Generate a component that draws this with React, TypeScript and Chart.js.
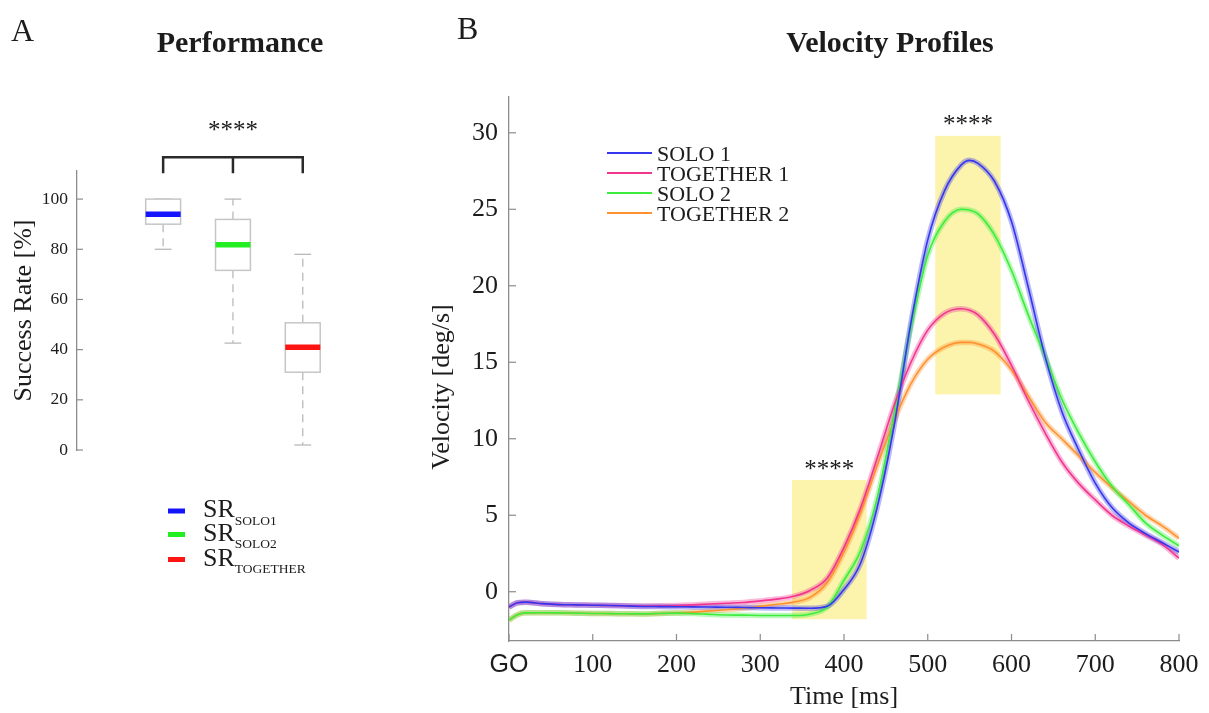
import React, { useEffect, useRef } from 'react';
import { Chart, registerables } from 'chart.js';

Chart.register(...registerables);

const SERIF = '"Liberation Serif", "Times New Roman", Times, serif';
const SANS = '"Liberation Sans", Arial, Helvetica, sans-serif';
const TEXT = '#1c1c1c';
const AXIS = '#8c8c8c';

// ---------- Panel A : Performance ----------
const boxCategories = ['SOLO1', 'SOLO2', 'TOGETHER'];
const boxPositions = [1, 2, 3];
const boxMedian = [94, 81.8, 41];
const boxQ1 = [90, 71.6, 31];
const boxQ3 = [100, 91.9, 50.7];
const boxLow = [80, 42.6, 2];
const boxHigh = [100, 100, 78];
const boxColors = ['#1414ff', '#22ee22', '#ff1414'];
const successTicks = [0, 20, 40, 60, 80, 100];
const bracketLegLevel = 110.3;
const bracketBarLevel = 116.7;
const bracketStarLevel = 128.5;

// ---------- Panel B : Velocity Profiles ----------
const timeMs = [0, 10, 20, 40, 60, 80, 100, 120, 140, 160, 180, 200, 220, 240, 260, 280, 300, 320, 340, 360, 380, 400, 420, 440, 460, 480, 500, 520, 540, 550, 560, 580, 600, 620, 640, 660, 680, 700, 720, 740, 760, 780, 800];
const solo1 = [-1.0, -0.72, -0.68, -0.78, -0.84, -0.86, -0.88, -0.9, -0.93, -0.96, -0.97, -0.98, -0.99, -1.0, -1.01, -1.03, -1.05, -1.06, -1.07, -1.08, -0.95, 0.15, 1.9, 5.6, 10.9, 17.6, 23.0, 26.2, 27.9, 28.2, 28.0, 26.8, 24.2, 19.9, 15.4, 11.8, 9.3, 7.1, 5.5, 4.5, 3.8, 3.2, 2.6];
const together1 = [-1.0, -0.72, -0.68, -0.78, -0.84, -0.86, -0.88, -0.9, -0.92, -0.93, -0.92, -0.9, -0.86, -0.8, -0.75, -0.7, -0.6, -0.48, -0.3, 0.1, 0.9, 2.9, 5.5, 8.8, 12.2, 15.0, 17.1, 18.2, 18.5, 18.4, 18.1, 16.8, 14.8, 12.5, 10.4, 8.5, 7.1, 6.0, 5.0, 4.3, 3.7, 3.1, 2.2];
const solo2 = [-1.85, -1.5, -1.38, -1.37, -1.38, -1.4, -1.42, -1.43, -1.44, -1.45, -1.42, -1.4, -1.43, -1.48, -1.52, -1.53, -1.55, -1.55, -1.55, -1.45, -1.0, 0.75, 2.7, 6.2, 11.6, 17.3, 22.0, 24.2, 25.0, 24.95, 24.7, 23.3, 21.0, 18.1, 15.4, 12.6, 10.4, 8.5, 6.9, 5.7, 4.5, 3.7, 3.0];
const together2 = [-1.85, -1.5, -1.38, -1.37, -1.38, -1.4, -1.42, -1.43, -1.44, -1.45, -1.42, -1.38, -1.33, -1.25, -1.18, -1.08, -0.95, -0.82, -0.68, -0.35, 0.6, 2.6, 5.2, 8.3, 11.2, 13.6, 15.2, 16.0, 16.3, 16.3, 16.2, 15.7, 14.5, 12.8, 11.1, 10.0, 8.9, 7.8, 6.8, 5.9, 5.0, 4.3, 3.5];
const seriesLabels = ['SOLO 1', 'TOGETHER 1', 'SOLO 2', 'TOGETHER 2'];
const seriesColors = ['#3636ee', '#f2368f', '#3ded3d', '#ff922e'];
const velocityTicks = [0, 5, 10, 15, 20, 25, 30];
const timeTicks = [0, 100, 200, 300, 400, 500, 600, 700, 800];
const sigWindowStart = [338, 509];
const sigWindowEnd = [427, 587];
const sigWindowLow = [-1.8, 12.9];
const sigWindowHigh = [7.3, 29.8];

function rgba(hex: string, a: number) {
  const n = parseInt(hex.slice(1), 16);
  return `rgba(${(n >> 16) & 255},${(n >> 8) & 255},${n & 255},${a})`;
}

function drawInsideTicks(chart: any, len: number, withX: boolean) {
  const { ctx, chartArea, scales } = chart;
  ctx.save();
  ctx.strokeStyle = AXIS;
  ctx.lineWidth = 1.2;
  scales.y.ticks.forEach((t: any) => {
    const py = scales.y.getPixelForValue(t.value);
    ctx.beginPath();
    ctx.moveTo(chartArea.left, py);
    ctx.lineTo(chartArea.left + len, py);
    ctx.stroke();
  });
  if (withX) {
    scales.x.ticks.forEach((t: any) => {
      const px = scales.x.getPixelForValue(t.value);
      ctx.beginPath();
      ctx.moveTo(px, chartArea.bottom);
      ctx.lineTo(px, chartArea.bottom - len);
      ctx.stroke();
    });
  }
  ctx.restore();
}

const performancePlugin = {
  id: 'performanceDecor',
  beforeDatasetsDraw(chart: any) {
    const { ctx, scales } = chart;
    const x = scales.x;
    const y = scales.y;
    ctx.save();
    boxPositions.forEach((p, i) => {
      const cx = x.getPixelForValue(p);
      const bl = x.getPixelForValue(p - 0.25);
      const br = x.getPixelForValue(p + 0.25);
      const cl = x.getPixelForValue(p - 0.12);
      const cr = x.getPixelForValue(p + 0.12);
      const yq1 = y.getPixelForValue(boxQ1[i]);
      const yq3 = y.getPixelForValue(boxQ3[i]);
      const ylo = y.getPixelForValue(boxLow[i]);
      const yhi = y.getPixelForValue(boxHigh[i]);
      ctx.strokeStyle = '#b9b9b9';
      ctx.lineWidth = 1.3;
      ctx.setLineDash([8, 6]);
      if (boxHigh[i] > boxQ3[i]) {
        ctx.beginPath(); ctx.moveTo(cx, yq3); ctx.lineTo(cx, yhi); ctx.stroke();
      }
      if (boxLow[i] < boxQ1[i]) {
        ctx.beginPath(); ctx.moveTo(cx, yq1); ctx.lineTo(cx, ylo); ctx.stroke();
      }
      ctx.setLineDash([]);
      ctx.beginPath(); ctx.moveTo(cl, yhi); ctx.lineTo(cr, yhi); ctx.stroke();
      ctx.beginPath(); ctx.moveTo(cl, ylo); ctx.lineTo(cr, ylo); ctx.stroke();
      ctx.fillStyle = '#ffffff';
      ctx.fillRect(bl, yq3, br - bl, yq1 - yq3);
      ctx.strokeStyle = '#c6c6c6';
      ctx.lineWidth = 1.5;
      ctx.strokeRect(bl, yq3, br - bl, yq1 - yq3);
    });
    ctx.restore();
  },
  afterDraw(chart: any) {
    const { ctx, scales } = chart;
    const x = scales.x;
    const y = scales.y;
    drawInsideTicks(chart, 6, false);
    ctx.save();
    // significance bracket
    const yBar = y.getPixelForValue(bracketBarLevel);
    const yLeg = y.getPixelForValue(bracketLegLevel);
    const xs = boxPositions.map((p) => x.getPixelForValue(p));
    ctx.strokeStyle = '#2a2a2a';
    ctx.lineWidth = 2.5;
    ctx.beginPath();
    ctx.moveTo(xs[0], yLeg);
    ctx.lineTo(xs[0], yBar);
    ctx.lineTo(xs[2], yBar);
    ctx.lineTo(xs[2], yLeg);
    ctx.moveTo(xs[1], yBar);
    ctx.lineTo(xs[1], yLeg);
    ctx.stroke();
    ctx.fillStyle = TEXT;
    ctx.font = `25px ${SERIF}`;
    ctx.textAlign = 'center';
    ctx.textBaseline = 'middle';
    ctx.fillText('****', xs[1], y.getPixelForValue(bracketStarLevel) + 4);
    // panel letter and title
    ctx.textAlign = 'left';
    ctx.textBaseline = 'alphabetic';
    ctx.font = `32px ${SERIF}`;
    ctx.fillText('A', 11, 41);
    ctx.textAlign = 'center';
    ctx.font = `bold 30px ${SERIF}`;
    ctx.fillText('Performance', 240, 52);
    // legend
    const rows = [511, 534.5, 559.5];
    boxCategories.forEach((c, i) => {
      ctx.fillStyle = boxColors[i];
      ctx.fillRect(168, rows[i] - 2.5, 17, 5);
      ctx.fillStyle = TEXT;
      ctx.textAlign = 'left';
      ctx.font = `26px ${SERIF}`;
      ctx.fillText('SR', 203, rows[i] + 6);
      const w = ctx.measureText('SR').width;
      ctx.font = `13.5px ${SERIF}`;
      ctx.fillText(c, 203 + w, rows[i] + 13.5);
    });
    ctx.restore();
  },
};

const velocityPlugin = {
  id: 'velocityDecor',
  beforeDatasetsDraw(chart: any) {
    const { ctx, scales, chartArea } = chart;
    ctx.save();
    ctx.beginPath();
    ctx.rect(chartArea.left, chartArea.top, chartArea.right - chartArea.left, chartArea.bottom - chartArea.top);
    ctx.clip();
    ctx.fillStyle = 'rgb(252, 243, 172)';
    sigWindowStart.forEach((s, i) => {
      const x0 = scales.x.getPixelForValue(s);
      const x1 = scales.x.getPixelForValue(sigWindowEnd[i]);
      const y0 = scales.y.getPixelForValue(sigWindowHigh[i]);
      const y1 = scales.y.getPixelForValue(sigWindowLow[i]);
      ctx.fillRect(x0, y0, x1 - x0, y1 - y0);
    });
    ctx.restore();
  },
  afterDraw(chart: any) {
    const { ctx, scales, chartArea } = chart;
    drawInsideTicks(chart, 7, true);
    ctx.save();
    ctx.fillStyle = TEXT;
    ctx.font = `25px ${SERIF}`;
    ctx.textAlign = 'center';
    ctx.textBaseline = 'middle';
    sigWindowStart.forEach((s, i) => {
      const cx = (scales.x.getPixelForValue(s) + scales.x.getPixelForValue(sigWindowEnd[i])) / 2;
      const top = scales.y.getPixelForValue(sigWindowHigh[i]);
      ctx.fillText('****', cx, top - 10);
    });
    // y title
    ctx.save();
    ctx.translate(22, (chartArea.top + chartArea.bottom) / 2 + 18);
    ctx.rotate(-Math.PI / 2);
    ctx.font = `26px ${SERIF}`;
    ctx.fillText('Velocity [deg/s]', 0, 0);
    ctx.restore();
    // panel letter and title
    ctx.textBaseline = 'alphabetic';
    ctx.textAlign = 'left';
    ctx.font = `32px ${SERIF}`;
    ctx.fillText('B', 37, 39);
    ctx.textAlign = 'center';
    ctx.font = `bold 30px ${SERIF}`;
    ctx.fillText('Velocity Profiles', 470, 52);
    // legend
    ctx.textAlign = 'left';
    ctx.font = `22px ${SERIF}`;
    seriesLabels.forEach((lab, i) => {
      const yy = chartArea.top + 56 + i * 20;
      ctx.strokeStyle = seriesColors[i];
      ctx.lineWidth = 2;
      ctx.beginPath();
      ctx.moveTo(chartArea.left + 98, yy);
      ctx.lineTo(chartArea.left + 143, yy);
      ctx.stroke();
      ctx.fillStyle = TEXT;
      ctx.fillText(lab, chartArea.left + 148, yy + 7.5);
    });
    ctx.restore();
  },
};

export default function App() {
  const leftRef = useRef<HTMLCanvasElement>(null);
  const rightRef = useRef<HTMLCanvasElement>(null);

  useEffect(() => {
    const left = new Chart(leftRef.current as HTMLCanvasElement, {
      type: 'scatter',
      data: {
        datasets: [
          {
            label: 'median',
            data: boxPositions.map((p, i) => ({ x: p, y: boxMedian[i] })),
            pointStyle: 'line',
            pointRadius: 17.5,
            pointHoverRadius: 17.5,
            pointBorderWidth: 5.5,
            pointBorderColor: boxColors,
            pointBackgroundColor: boxColors,
            showLine: false,
          } as any,
        ],
      },
      options: {
        responsive: false,
        animation: false,
        layout: { padding: { top: 171, bottom: 263, left: 0, right: 20 } },
        plugins: { legend: { display: false }, tooltip: { enabled: false }, title: { display: false } },
        scales: {
          x: { type: 'linear', min: -0.234, max: 4.35, display: false },
          y: {
            type: 'linear',
            min: 0,
            max: 111.2,
            afterBuildTicks: (s: any) => { s.ticks = successTicks.map((v) => ({ value: v })); },
            afterFit: (s: any) => { s.width = 77; },
            grid: { display: false, drawTicks: false },
            border: { display: true, color: AXIS, width: 1.3 },
            ticks: { padding: 9, color: TEXT, font: { family: SERIF, size: 17.5 } },
            title: { display: true, text: 'Success Rate [%]', color: TEXT, font: { family: SERIF, size: 26 }, padding: { top: 9, bottom: 0 } },
          },
        },
      },
      plugins: [performancePlugin],
    } as any);

    const allSeries = [solo1, together1, solo2, together2];
    const toPoints = (s: number[]) => timeMs.map((t, j) => ({ x: t, y: s[j] }));
    const bands = allSeries.map((s, i) => ({
      label: seriesLabels[i] + ' band',
      data: toPoints(s),
      borderColor: rgba(seriesColors[i], 0.35),
      borderWidth: 5.5,
      pointRadius: 0,
      fill: false,
      cubicInterpolationMode: 'monotone',
      order: 5,
    }));
    const lines = allSeries.map((s, i) => ({
      label: seriesLabels[i],
      data: toPoints(s),
      borderColor: seriesColors[i],
      borderWidth: 1.6,
      pointRadius: 0,
      fill: false,
      cubicInterpolationMode: 'monotone',
      order: 1,
    }));

    const right = new Chart(rightRef.current as HTMLCanvasElement, {
      type: 'line',
      data: { datasets: [...bands, ...lines] as any },
      options: {
        responsive: false,
        animation: false,
        parsing: true,
        layout: { padding: { top: 97, bottom: 0, left: 0, right: 30 } },
        plugins: { legend: { display: false }, tooltip: { enabled: false }, title: { display: false } },
        scales: {
          x: {
            type: 'linear',
            min: 0,
            max: 800,
            afterBuildTicks: (s: any) => { s.ticks = timeTicks.map((v) => ({ value: v })); },
            afterFit: (s: any) => { s.height = 72; },
            grid: { display: false, drawTicks: false },
            border: { display: true, color: AXIS, width: 1.3 },
            ticks: {
              padding: 9,
              color: TEXT,
              maxRotation: 0,
              autoSkip: false,
              callback: (v: any) => (v === 0 ? 'GO' : String(v)),
              font: (c: any) => ({ family: c.tick && c.tick.value === 0 ? SANS : SERIF, size: c.tick && c.tick.value === 0 ? 25 : 26 }),
            },
            title: { display: true, text: 'Time [ms]', color: TEXT, font: { family: SERIF, size: 26 }, padding: 0 },
          },
          y: {
            type: 'linear',
            min: -3.22,
            max: 32.34,
            afterBuildTicks: (s: any) => { s.ticks = velocityTicks.map((v) => ({ value: v })); },
            afterFit: (s: any) => { s.width = 89; },
            grid: { display: false, drawTicks: false },
            border: { display: true, color: AXIS, width: 1.3 },
            ticks: { padding: 11, color: TEXT, font: { family: SERIF, size: 26 } },
          },
        },
      },
      plugins: [velocityPlugin],
    } as any);

    return () => {
      left.destroy();
      right.destroy();
    };
  }, []);

  return (
    <div style={{ position: 'fixed', left: 0, top: 0, width: 1209, height: 713, background: '#ffffff', overflow: 'hidden' }}>
      <canvas ref={leftRef} width={420} height={713} style={{ position: 'absolute', left: 0, top: 0, width: 420, height: 713 }} />
      <canvas ref={rightRef} width={789} height={713} style={{ position: 'absolute', left: 420, top: 0, width: 789, height: 713 }} />
    </div>
  );
}
